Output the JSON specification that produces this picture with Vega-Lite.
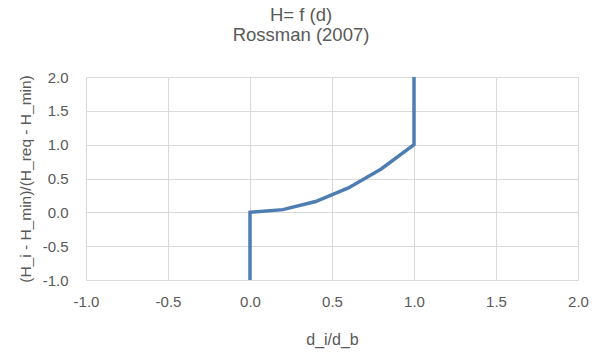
{
  "$schema": "https://vega.github.io/schema/vega-lite/v6.json",
  "width": 492,
  "height": 203,
  "autosize": {"type": "none"},
  "padding": {"left": 86, "top": 77, "right": 19, "bottom": 74},
  "background": "white",
  "title": {
    "text": "H= f (d)",
    "subtitle": "Rossman (2007)",
    "font": "Liberation Sans",
    "subtitleFont": "Liberation Sans",
    "fontSize": 18.5,
    "subtitleFontSize": 18.5,
    "fontWeight": "normal",
    "color": "#595959",
    "subtitleColor": "#595959",
    "anchor": "middle",
    "dx": -31,
    "offset": 26,
    "subtitlePadding": 1
  },
  "data": {
    "values": [
      {"step": 1, "d": 0, "h": -1},
      {"step": 2, "d": 0, "h": 0},
      {"step": 3, "d": 0.2, "h": 0.04},
      {"step": 4, "d": 0.4, "h": 0.16},
      {"step": 5, "d": 0.6, "h": 0.36},
      {"step": 6, "d": 0.8, "h": 0.64},
      {"step": 7, "d": 1, "h": 1},
      {"step": 8, "d": 1, "h": 2}
    ]
  },
  "mark": {"type": "line", "color": "#4e7db2", "strokeWidth": 3.5},
  "encoding": {
    "x": {
      "field": "d",
      "type": "quantitative",
      "title": "d_i/d_b",
      "scale": {"domain": [-1, 2], "nice": false, "zero": false},
      "axis": {"values": [-1, -0.5, 0, 0.5, 1, 1.5, 2], "labelExpr": "replace(format(datum.value, '.1f'), '\u2212', '-')", "labelPadding": 14, "titlePadding": 22}
    },
    "y": {
      "field": "h",
      "type": "quantitative",
      "title": "(H_i - H_min)/(H_req - H_min)",
      "scale": {"domain": [-1, 2], "nice": false, "zero": false},
      "axis": {"values": [-1, -0.5, 0, 0.5, 1, 1.5, 2], "labelExpr": "replace(format(datum.value, '.1f'), '\u2212', '-')", "labelPadding": 18, "titlePadding": 9, "titleFontSize": 15.5}
    },
    "order": {"field": "step", "type": "quantitative"}
  },
  "config": {
    "view": {"stroke": null},
    "axis": {
      "domain": false,
      "ticks": false,
      "grid": true,
      "gridColor": "#d9d9d9",
      "gridWidth": 1,
      "labelFont": "Liberation Sans",
      "labelFontSize": 15,
      "labelColor": "#595959",
      "titleFont": "Liberation Sans",
      "titleFontSize": 16,
      "titleFontWeight": "normal",
      "titleColor": "#595959",
      "labelFlush": false,
      "labelOverlap": false
    }
  }
}
